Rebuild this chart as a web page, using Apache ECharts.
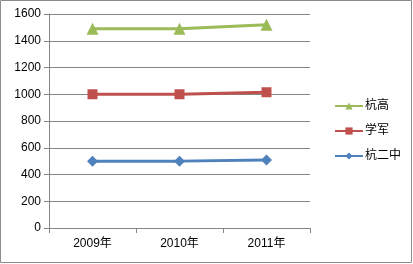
<!DOCTYPE html>
<html><head><meta charset="utf-8">
<script src="https://cdn.jsdelivr.net/npm/echarts@6/dist/echarts.min.js"></script>
<style>html,body{margin:0;padding:0;background:#fff}#c{width:413px;height:264px}</style>
</head><body><div id="c"></div>
<script>
var categories = ['2009年', '2010年', '2011年'];
var hangGao = [1490, 1490, 1520];
var xueJun = [1000, 1000, 1015];
var hangErZhong = [500, 500, 508];
var seriesNames = ['杭高', '学军', '杭二中'];

var chart = echarts.init(document.getElementById('c'), null, {renderer: 'canvas'});
var font = 'Arial, "Liberation Sans", "Noto Sans CJK SC", sans-serif';
function mk(name, data, color, symbol, size) {
  return {
    name: name, type: 'line', data: data, symbol: symbol, symbolSize: size,
    lineStyle: {color: color, width: 3}, itemStyle: {color: color},
    animation: false
  };
}
chart.setOption({
  animation: false,
  graphic: [{type: 'rect', shape: {x: 0.5, y: 0.5, width: 411, height: 262},
    style: {fill: 'none', stroke: '#8c8c8c', lineWidth: 1}}],
  grid: {left: 49, right: 103, top: 14, bottom: 36},
  legend: {
    orient: 'vertical', left: 329, top: 95, itemGap: 13, itemWidth: 28, itemHeight: 9,
    data: seriesNames,
    textStyle: {fontFamily: font, fontSize: 12, color: '#000', padding: [0,0,0,-3]}
  },
  xAxis: {
    type: 'category', data: categories, boundaryGap: true,
    axisLine: {lineStyle: {color: '#868686'}},
    axisTick: {show: true, length: 5, lineStyle: {color: '#868686'}},
    axisLabel: {fontFamily: font, fontSize: 12, color: '#000', margin: 10}
  },
  yAxis: {
    type: 'value', min: 0, max: 1600, interval: 200,
    axisLine: {show: true, lineStyle: {color: '#868686'}},
    axisTick: {show: true, length: 5, lineStyle: {color: '#868686'}},
    splitLine: {lineStyle: {color: '#868686'}},
    axisLabel: {fontFamily: font, fontSize: 12, color: '#000', margin: 8,
      formatter: function (v) { return String(v); }}
  },
  series: [
    mk(seriesNames[0], hangGao, '#9bbb59', 'triangle', 12),
    mk(seriesNames[1], xueJun, '#c0504d', 'rect', 10),
    mk(seriesNames[2], hangErZhong, '#4f81bd', 'diamond', 11)
  ]
});
</script></body></html>
